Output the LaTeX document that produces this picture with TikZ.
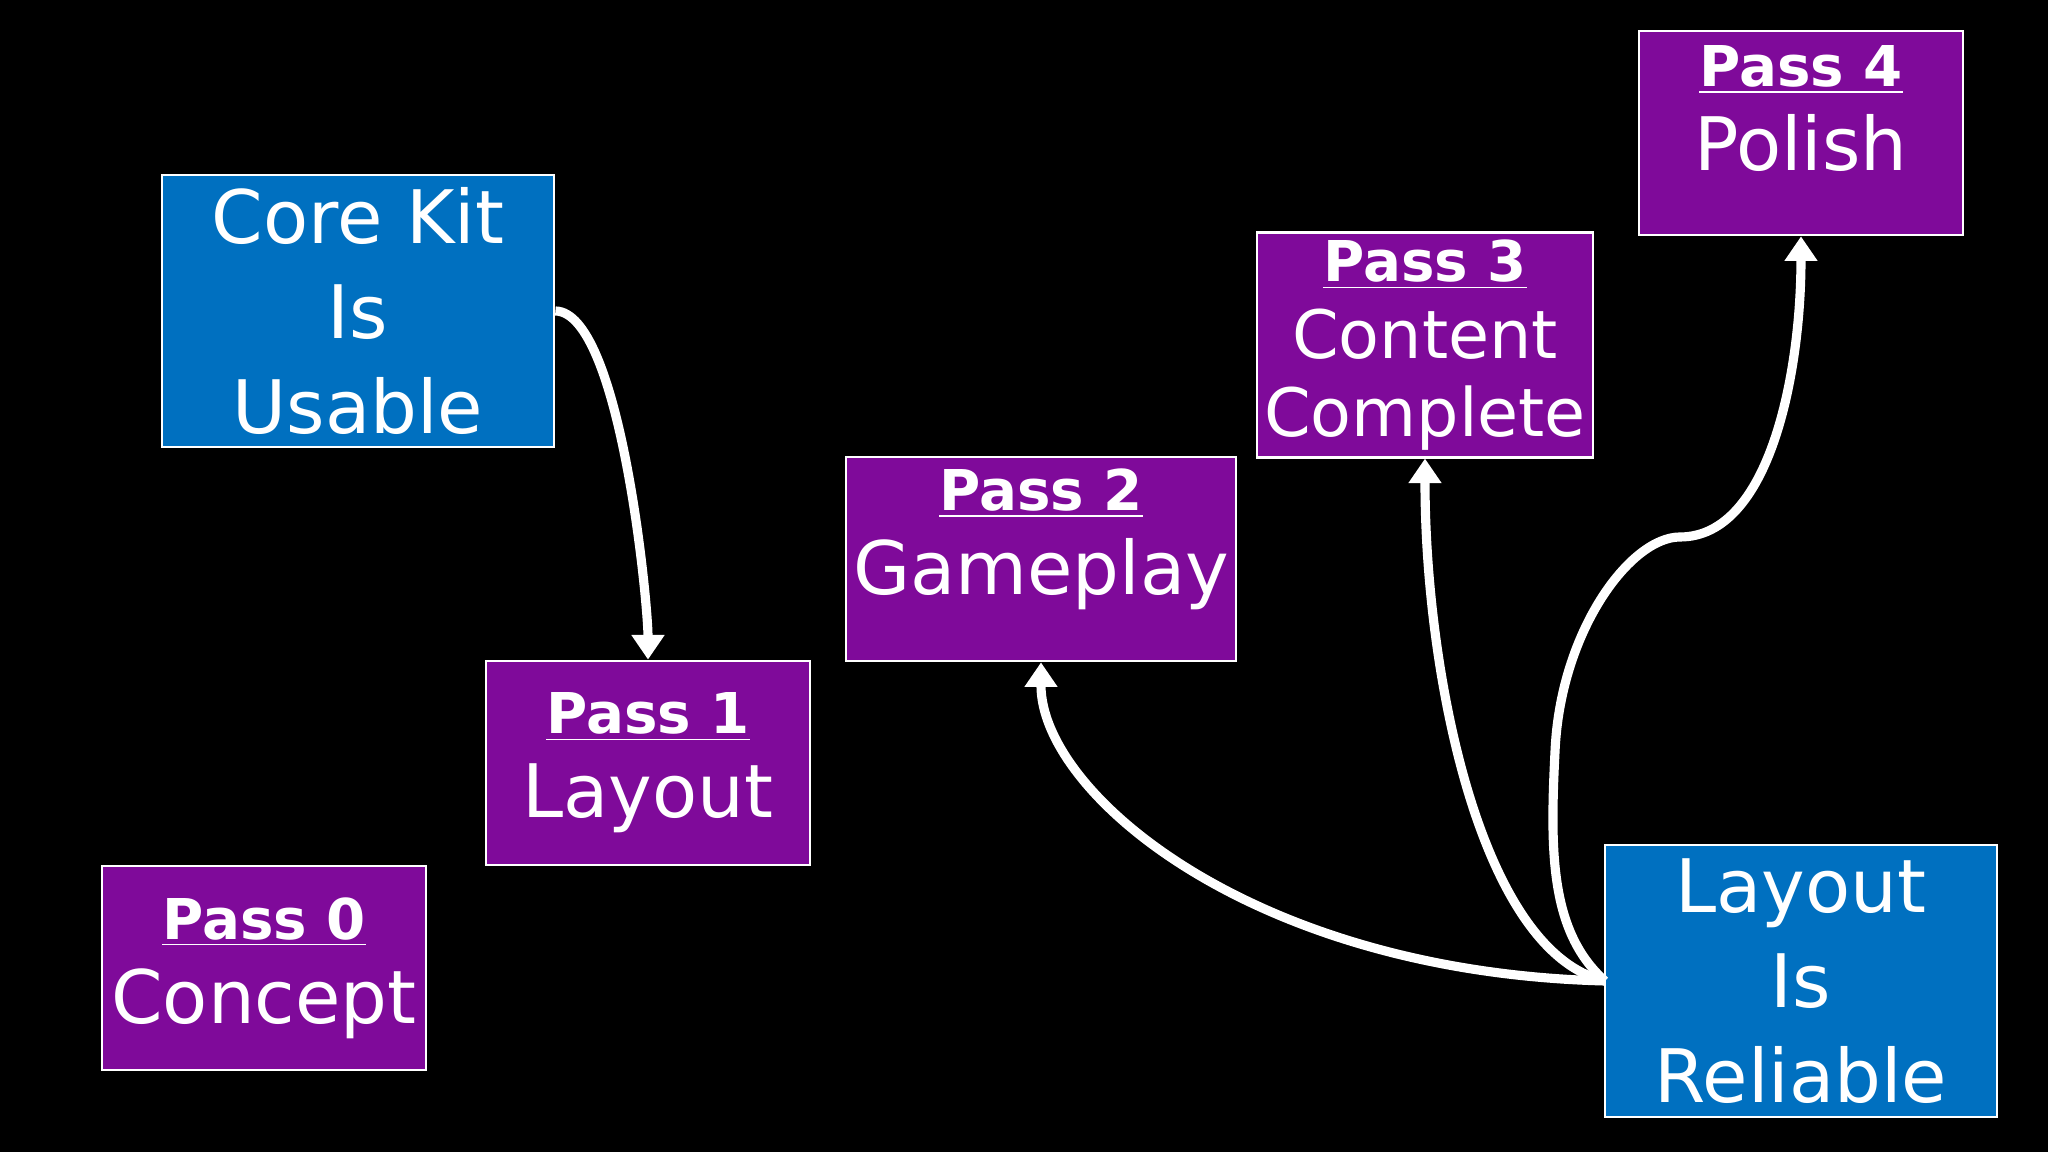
\documentclass[tikz,border=0pt]{standalone}
\usepackage{fontspec}
\setmainfont{DejaVu Sans}
\usetikzlibrary{arrows.meta}
\definecolor{kitblue}{HTML}{0070C0}
\definecolor{passpurple}{HTML}{7F0A9A}
\tikzset{
  box/.style={draw=white, line width=0.8pt, text=white, align=center, inner sep=2pt},
  milestone/.style={box, fill=kitblue, minimum width=3.92cm, minimum height=2.72cm, font=\fontsize{21}{27}\selectfont},
  pass/.style={box, fill=passpurple, minimum width=3.24cm, minimum height=2.04cm, font=\fontsize{21}{24}\selectfont},
  flow/.style={draw=white, line width=2.6pt, -{Triangle[length=7pt,width=9pt]}}
}
\newcommand{\passhead}[1]{{\fontsize{16}{19}\selectfont\bfseries\underline{#1}}}
\begin{document}
\begin{tikzpicture}
  \fill[black] (0,0) rectangle (20.48,11.52);
  \useasboundingbox (0,0) rectangle (20.48,11.52);
  % milestones
  \node[milestone] (corekit) at (3.58,8.41) {Core Kit\\Is\\Usable};
  \node[milestone] (reliable) at (18.01,1.71) {Layout\\Is\\Reliable};
  % passes
  \node[pass] (pass0) at (2.64,1.84) {\passhead{Pass 0}\\Concept};
  \node[pass] (pass1) at (6.48,3.89) {\passhead{Pass 1}\\Layout};
  \node[pass, minimum width=3.41cm, text depth=0.55cm] (pass2) at (10.41,5.93) {\passhead{Pass 2}\\Gameplay};
  \node[pass, minimum height=2.17cm, font=\fontsize{19}{22}\selectfont] (pass3) at (14.25,8.07) {\passhead{Pass 3}\\Content\\Complete};
  \node[pass, text depth=0.5cm] (pass4) at (18.01,10.19) {\passhead{Pass 4}\\Polish};
  % connectors
  \draw[flow] (corekit.east) .. controls (6.2,8.4) and (6.48,5.5) .. (pass1.north);
  \coordinate (fork) at (16.05,1.71);
  \draw[flow] (fork) .. controls (12.5,1.8) and (10.41,3.6) .. (pass2.south);
  \draw[flow] (fork) .. controls (14.8,2.0) and (14.25,4.8) .. (pass3.south);
  \draw[flow] (fork) .. controls (15.5,2.2) and (15.5,3.0) .. (15.55,4.0)
    .. controls (15.6,5.2) and (16.3,6.15) .. (16.8,6.15)
    .. controls (17.7,6.15) and (18.01,7.8) .. (pass4.south);
\end{tikzpicture}
\end{document}
